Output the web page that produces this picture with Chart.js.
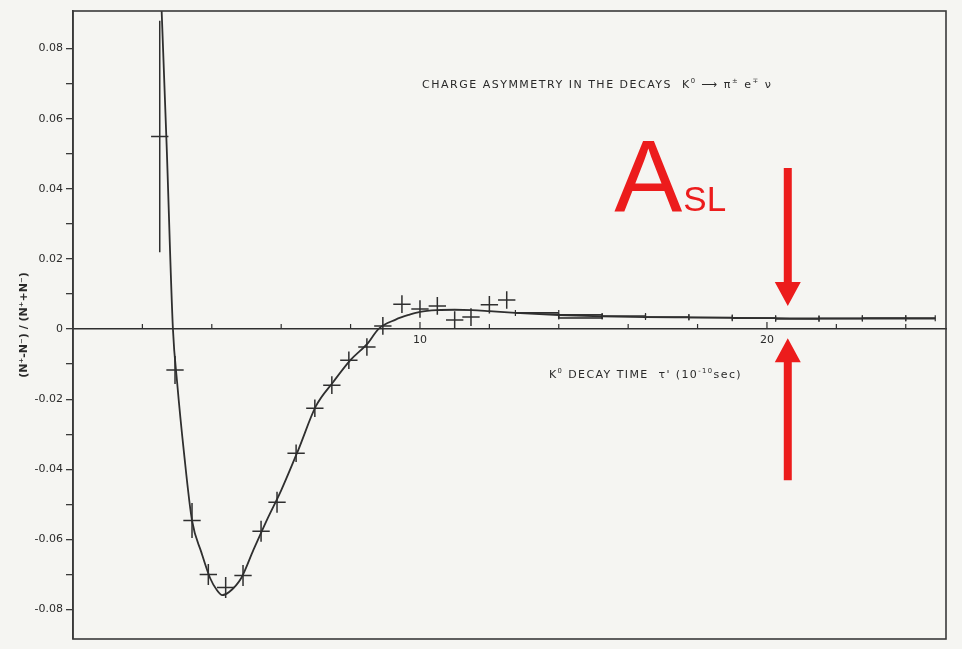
<!DOCTYPE html>
<html>
<head>
<meta charset="utf-8">
<script src="https://cdn.jsdelivr.net/npm/chart.js@4.4.1/dist/chart.umd.min.js"></script>
<style>
  html, body { margin: 0; padding: 0; background: #f5f5f2; }
  #wrap { width: 962px; height: 649px; position: relative; }
</style>
</head>
<body>
<div id="wrap"><canvas id="chart"></canvas></div>
<script>
// Measured charge asymmetry in 0.5 (10^-10 s) bins
const decayTime = [2.5, 2.94, 3.43, 3.9, 4.4, 4.9, 5.42, 5.88, 6.43, 6.97, 7.46, 7.95, 8.47, 8.93, 9.48, 10.0, 10.5, 11.0, 11.47, 12.0, 12.5];
const asymmetry = [0.0549, -0.0117, -0.0546, -0.0700, -0.0737, -0.0703, -0.0577, -0.0494, -0.0354, -0.0226, -0.0160, -0.0089, -0.0051, 0.0009, 0.0071, 0.0057, 0.0066, 0.0026, 0.0034, 0.0069, 0.0083];
const asymmetryErr = [0.033, 0.004, 0.005, 0.003, 0.003, 0.003, 0.003, 0.003, 0.0025, 0.0025, 0.0025, 0.0025, 0.0025, 0.0025, 0.0025, 0.0025, 0.0025, 0.0025, 0.0025, 0.0025, 0.0025];
const binHalfWidth = 0.25;

// Wide bins at long decay times
const wideBinStart = [12.75, 14.0, 15.25, 16.5, 17.75, 19.0, 20.25, 21.5, 22.75, 24.0];
const wideBinEnd   = [14.0, 15.25, 16.5, 17.75, 19.0, 20.25, 21.5, 22.75, 24.0, 24.85];
const wideBinAsym  = [0.0046, 0.0036, 0.0037, 0.0034, 0.0033, 0.0031, 0.0029, 0.0030, 0.0031, 0.0031];
const wideBinErr   = [0, 0.00045, 0, 0, 0, 0, 0, 0, 0, 0];

// Fitted asymmetry curve
const fitTime = [2.55, 2.7, 2.88, 3.0, 3.2, 3.43, 3.7, 3.95, 4.15, 4.3, 4.5, 4.85, 5.2, 5.6, 6.0, 6.5, 7.0, 7.5, 8.0, 8.5, 8.8, 9.3, 9.7, 10.0, 10.5, 11.0, 11.5, 12.0, 12.75, 14.0, 15.25, 16.5, 17.75, 19.0, 20.25, 21.5, 22.75, 24.0, 24.85];
const fitAsym = [0.092, 0.052, 0.0, -0.0151, -0.0354, -0.0546, -0.0637, -0.0710, -0.0745, -0.0759, -0.0750, -0.0710, -0.0630, -0.0542, -0.0460, -0.0343, -0.0220, -0.0151, -0.0088, -0.0040, 0.0, 0.0027, 0.0041, 0.0049, 0.0054, 0.0055, 0.0054, 0.0051, 0.0046, 0.0040, 0.0036, 0.0034, 0.0033, 0.0032, 0.0031, 0.0030, 0.0030, 0.0030, 0.0030];

// Axis ticks
const xTickValues = [2, 4, 6, 8, 10, 12, 14, 16, 18, 20, 22, 24];
const xTickLabels = { 10: '10', 20: '20' };
const yTickValues = [-0.08, -0.07, -0.06, -0.05, -0.04, -0.03, -0.02, -0.01, 0, 0.01, 0.02, 0.03, 0.04, 0.05, 0.06, 0.07, 0.08];
const yTickLabels = { '-0.08': '-0.08', '-0.06': '-0.06', '-0.04': '-0.04', '-0.02': '-0.02', '0': '0', '0.02': '0.02', '0.04': '0.04', '0.06': '0.06', '0.08': '0.08' };

const INK = '#2f2f2f';
const RED = '#ec1c1c';
const FONT = '"DejaVu Sans", "Liberation Sans", sans-serif';

// Draw a run of text pieces, some raised as superscripts
function drawRich(ctx, pieces, x, y, size, align, spacing) {
  const sup = size * 0.62;
  ctx.letterSpacing = spacing + 'px';
  const widths = pieces.map(([t, s]) => { ctx.font = (s ? sup : size) + 'px ' + FONT; return ctx.measureText(t).width; });
  const total = widths.reduce((a, b) => a + b, 0);
  let cx = align === 'center' ? x - total / 2 : x;
  ctx.textBaseline = 'alphabetic';
  ctx.textAlign = 'left';
  pieces.forEach(([t, s], i) => {
    ctx.font = (s ? sup : size) + 'px ' + FONT;
    ctx.fillText(t, cx, s ? y - size * 0.45 : y);
    cx += widths[i];
  });
  ctx.letterSpacing = '0px';
}

const paperPlugin = {
  id: 'paper',
  beforeDraw(chart) {
    const c = chart.ctx;
    c.save();
    c.fillStyle = '#f5f5f2';
    c.fillRect(0, 0, chart.width, chart.height);
    c.restore();
  }
};

const marksPlugin = {
  id: 'marks',
  afterDatasetsDraw(chart) {
    const { ctx, chartArea, scales: { x, y } } = chart;
    ctx.save();
    ctx.strokeStyle = INK;
    ctx.lineWidth = 1.5;

    // crosses: bin width horizontally, statistical error vertically
    const meta = chart.getDatasetMeta(1);
    meta.data.forEach((pt, i) => {
      const x0 = x.getPixelForValue(decayTime[i] - binHalfWidth);
      const x1 = x.getPixelForValue(decayTime[i] + binHalfWidth);
      const y0 = y.getPixelForValue(asymmetry[i] + asymmetryErr[i]);
      const y1 = y.getPixelForValue(asymmetry[i] - asymmetryErr[i]);
      ctx.beginPath();
      ctx.moveTo(x0, pt.y); ctx.lineTo(x1, pt.y);
      ctx.moveTo(pt.x, y0); ctx.lineTo(pt.x, y1);
      ctx.stroke();
    });

    // wide bins: horizontal bars with end marks
    wideBinStart.forEach((s, i) => {
      const x0 = x.getPixelForValue(s), x1 = x.getPixelForValue(wideBinEnd[i]);
      const py = y.getPixelForValue(wideBinAsym[i]);
      ctx.lineWidth = 1.6;
      if (wideBinErr[i] > 0) {
        const ya = y.getPixelForValue(wideBinAsym[i] + wideBinErr[i]);
        const yb = y.getPixelForValue(wideBinAsym[i] - wideBinErr[i]);
        ctx.strokeRect(x0, ya, x1 - x0, yb - ya);
      } else {
        ctx.beginPath(); ctx.moveTo(x0, py); ctx.lineTo(x1, py); ctx.stroke();
      }
      ctx.lineWidth = 1.2;
      ctx.beginPath();
      [x0, x1].forEach(px => { ctx.moveTo(px, py - 3); ctx.lineTo(px, py + 3); });
      ctx.stroke();
    });

    // small upward tick marks on the time axis
    const y0 = y.getPixelForValue(0);
    ctx.lineWidth = 1.2;
    ctx.beginPath();
    x.ticks.forEach(t => {
      const px = x.getPixelForValue(t.value);
      ctx.moveTo(px, y0); ctx.lineTo(px, y0 - (t.value % 10 === 0 ? 7 : 5));
    });
    ctx.stroke();

    // frame round the plot
    ctx.lineWidth = 1.6;
    ctx.strokeStyle = '#3a3a3a';
    ctx.strokeRect(chartArea.left, chartArea.top, chartArea.right - chartArea.left, chartArea.bottom - chartArea.top);
    ctx.restore();
  },
  afterDraw(chart) {
    const { ctx, scales: { x, y } } = chart;
    ctx.save();
    ctx.fillStyle = '#2a2a2a';
    // heading inside the plot
    drawRich(ctx, [['CHARGE ASYMMETRY IN THE DECAYS  K', 0], ['0', 1], [' \u27F6 \u03C0', 0], ['\u00B1', 1], [' e', 0], ['\u2213', 1], [' \u03BD', 0]],
      x.getPixelForValue(10.06), y.getPixelForValue(0.0687), 11, 'left', 1.5);
    // time axis title
    drawRich(ctx, [['K', 0], ['0', 1], [' DECAY TIME  \u03C4\' (10', 0], ['-10', 1], ['sec)', 0]],
      x.getPixelForValue(16.5), y.getPixelForValue(-0.0140), 11, 'center', 1.4);

    // A_SL marker
    ctx.fillStyle = RED;
    ctx.textAlign = 'left';
    ctx.textBaseline = 'alphabetic';
    ctx.font = '102px "Liberation Sans", Arial, sans-serif';
    const ax = x.getPixelForValue(15.6), ay = y.getPixelForValue(0.0334);
    ctx.fillText('A', ax, ay);
    const aw = ctx.measureText('A').width;
    ctx.font = '35px "Liberation Sans", Arial, sans-serif';
    ctx.fillText('SL', ax + aw + 1, ay - 1);

    // arrows pointing at the asymptotic asymmetry
    const arrowX = x.getPixelForValue(20.6);
    const drawArrow = (fromV, toV) => {
      const py0 = y.getPixelForValue(fromV), py1 = y.getPixelForValue(toV);
      const dir = Math.sign(py1 - py0);
      const headLen = 24, headHalf = 13, shaft = 4;
      const base = py1 - dir * headLen;
      ctx.beginPath();
      ctx.moveTo(arrowX - shaft, py0);
      ctx.lineTo(arrowX + shaft, py0);
      ctx.lineTo(arrowX + shaft, base);
      ctx.lineTo(arrowX + headHalf, base);
      ctx.lineTo(arrowX, py1);
      ctx.lineTo(arrowX - headHalf, base);
      ctx.lineTo(arrowX - shaft, base);
      ctx.closePath();
      ctx.fill();
    };
    drawArrow(0.0459, 0.0066);
    drawArrow(-0.0431, -0.0026);
    ctx.restore();
  }
};

const ctx = document.getElementById('chart');
new Chart(ctx, {
  type: 'scatter',
  data: {
    datasets: [
      {
        label: 'fit',
        data: fitTime.map((t, i) => ({ x: t, y: fitAsym[i] })),
        showLine: true,
        borderColor: INK,
        borderWidth: 1.8,
        pointRadius: 0,
        cubicInterpolationMode: 'monotone'
      },
      {
        label: 'measured',
        data: decayTime.map((t, i) => ({ x: t, y: asymmetry[i] })),
        pointRadius: 0,
        pointHoverRadius: 0,
        borderColor: INK
      }
    ]
  },
  options: {
    responsive: true,
    maintainAspectRatio: false,
    animation: false,
    layout: { padding: { top: 11, right: 16, bottom: 10, left: 0 } },
    plugins: { legend: { display: false }, tooltip: { enabled: false } },
    scales: {
      x: {
        type: 'linear',
        position: { y: 0 },
        min: 0,
        max: 25.16,
        afterBuildTicks: s => { s.ticks = xTickValues.map(v => ({ value: v })); },
        ticks: {
          autoSkip: false,
          maxRotation: 0,
          padding: 5,
          color: '#2a2a2a',
          font: { family: FONT, size: 11 },
          callback: v => xTickLabels[v] || ''
        },
        grid: { display: true, drawOnChartArea: false, drawTicks: false },
        border: { display: true, color: INK, width: 1.6 }
      },
      y: {
        type: 'linear',
        position: 'left',
        min: -0.0884,
        max: 0.0907,
        afterBuildTicks: s => { s.ticks = yTickValues.map(v => ({ value: v })); },
        afterFit: s => { s.width = 73; },
        ticks: {
          autoSkip: false,
          padding: 3,
          color: '#2a2a2a',
          font: { family: FONT, size: 11 },
          callback: v => yTickLabels[String(Math.round(v * 100) / 100)] || ''
        },
        grid: { display: true, drawOnChartArea: false, drawTicks: true, tickLength: 7, color: '#3a3a3a', lineWidth: 1.3 },
        border: { display: true, color: '#3a3a3a', width: 1.6 },
        title: {
          display: true,
          text: '(N\u207A-N\u207B) / (N\u207A+N\u207B)',
          color: '#2a2a2a',
          font: { family: FONT, size: 11, weight: 'bold' },
          padding: { top: 18, bottom: 2 }
        }
      }
    }
  },
  plugins: [paperPlugin, marksPlugin]
});
</script>
</body>
</html>
